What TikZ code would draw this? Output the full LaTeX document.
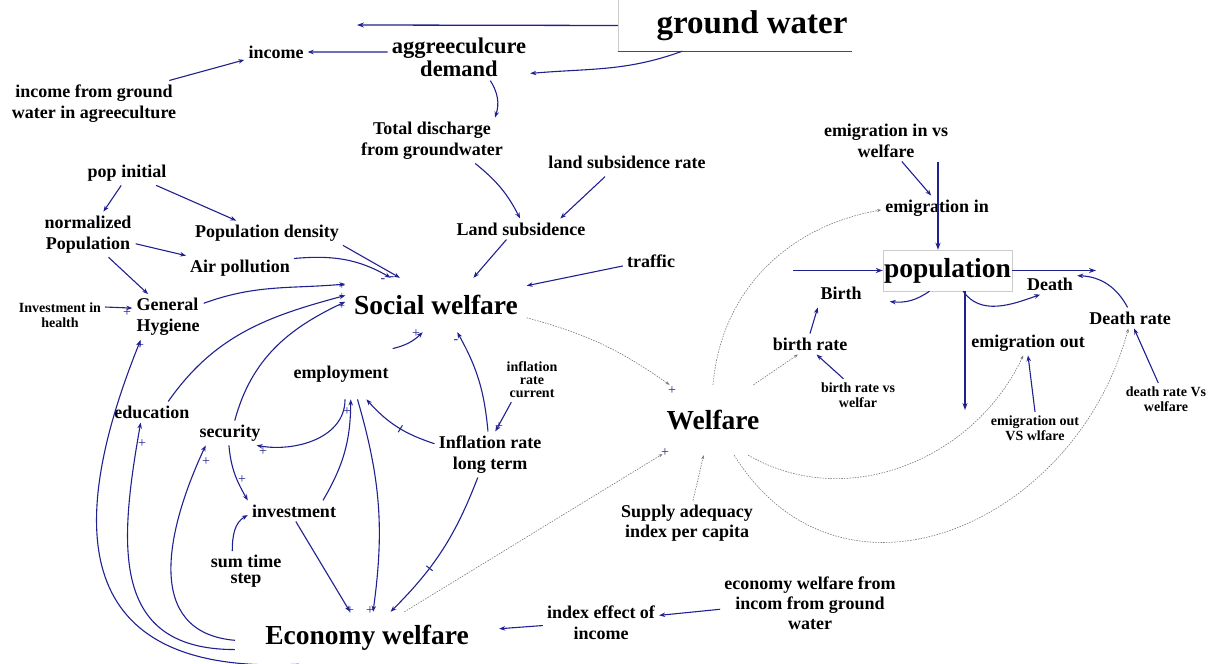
\documentclass[tikz,border=0pt]{standalone}
\usepackage{fontspec}
\setmainfont{Liberation Serif}
\usetikzlibrary{arrows.meta}
\definecolor{linkblue}{RGB}{32,32,145}
\definecolor{infogray}{RGB}{120,120,120}

\begin{document}
\begin{tikzpicture}[x=1pt,y=1pt,
  var/.style={font=\fontsize{18}{21}\selectfont\bfseries,align=center,inner sep=4pt},
  minor/.style={font=\fontsize{14}{15}\selectfont\bfseries,align=center,inner sep=4pt},
  big/.style={font=\fontsize{27.5}{30}\selectfont\bfseries,inner sep=4pt},
  link/.style={linkblue,line width=1.1pt,-{Stealth[length=6pt,width=4.5pt]}},
  flow/.style={linkblue,line width=1.3pt,-{Stealth[length=7pt,width=5pt]}},
  info/.style={infogray,line width=.6pt,dash pattern=on 1.5pt off 1.2pt,-{Stealth[length=4pt,width=3pt]}},
  pol/.style={text=linkblue,font=\fontsize{14}{14}\selectfont,inner sep=0pt},
  delaymark/.style={draw=linkblue,line width=1pt,minimum width=0pt,minimum height=8pt,inner sep=0pt,sloped,allow upside down}]

\useasboundingbox (0,0) rectangle (1211,664);

\node[minimum width=234pt,minimum height=51pt,inner sep=0pt] (gw) at (735,638.5) {};
\node[font=\fontsize{33}{36}\selectfont\bfseries] (gwtext) at ([xshift=17pt]gw.center) {ground water};
\draw[black!20] (gw.north west) -- (gw.south west);
\draw[black!70,line width=.8pt] (gw.south west) -- (gw.south east);

\node[var,font=\fontsize{22.5}{23}\selectfont\bfseries] (agdem) at (459,607) {aggreeculcure\\demand};
\node[var] (income) at (276,612) {income};
\node[var] (incgw) at (94,560.5) {income from ground\\water in agreeculture};
\node[var] (totdis) at (432,523.5) {Total discharge\\from groundwater};
\node[var] (lsrate) at (627,502) {land subsidence rate};
\node[var] (landsub) at (521,435) {Land subsidence};
\node[var] (traffic) at (651,403) {traffic};
\node[big,minimum width=181pt,minimum height=54pt] (social) at (436,359) {Social welfare};
\node[var] (popinit) at (127,491) {pop initial};
\node[var] (normpop) at (88,429.5) {normalized\\Population};
\node[var] (popdens) at (267,431) {Population density};
\node[var] (airpol) at (240,396) {Air pollution};
\node[var,align=left] (hygiene) at (168,347) {General\\Hygiene};
\node[minor] (invhealth) at (60,349) {Investment in\\health};
\node[var] (education) at (152,252) {education};
\node[var] (security) at (230,231) {security};
\node[var,inner ysep=17pt] (employment) at (341,290) {employment};
\node[minor,font=\fontsize{14}{13}\selectfont\bfseries] (inflcur) at (532,284) {inflation\\rate\\current};
\node[var] (inflation) at (490,209.5) {Inflation rate\\long term};
\node[var] (investment) at (294,153) {investment};
\node[var,font=\fontsize{18}{16}\selectfont\bfseries] (sumtime) at (246,92.5) {sum time\\step};
\node[big,minimum width=264pt,minimum height=52pt] (economy) at (367,26) {Economy welfare};
\node[big,minimum width=100pt,minimum height=70pt] (welfare) at (713,244) {Welfare};
\node[var,font=\fontsize{18}{20}\selectfont\bfseries] (supply) at (687,141) {Supply adequacy\\index per capita};
\node[var] (indexeff) at (601,41.5) {index effect of\\income};
\node[var,font=\fontsize{18}{20}\selectfont\bfseries] (econinc) at (810,61) {economy welfare from\\incom from ground\\water};

\node[var] (eminvs) at (886,523.5) {emigration in vs\\welfare};
\node[var] (emigin) at (937,456) {emigration in};
\node[big,draw=black!20,minimum width=129pt,minimum height=41pt,inner sep=0pt] (pop) at (947.5,393.5) {population};
\node[var,inner xsep=28pt,inner ysep=8pt] (birth) at (841,371) {Birth};
\node[var] (death) at (1050,380) {Death};
\node[var] (deathrate) at (1130,346) {Death rate};
\node[var] (emigout) at (1028,321) {emigration out};
\node[minor] (emoutvs) at (1035,235.5) {emigration out\\VS wlfare};
\node[minor] (deathvs) at (1166,264.5) {death rate Vs\\welfare};
\node[var] (birthrate) at (810,320) {birth rate};
\node[minor] (birthvs) at (858,268.5) {birth rate vs\\welfar};

\coordinate (gwout) at (357,639);
\coordinate (emincloud) at (938,502);
\coordinate (birthcloud) at (793,393.5);
\coordinate (deathcloud) at (1096,395);
\coordinate (emoutcloud) at (965,254);

% flows
\draw[flow] (gw.west) -- (gwout);
\draw[flow] (emincloud) -- (emincloud |- pop.north);
\draw[flow] (birthcloud) -- (pop.west);
\draw[flow] (pop.east) -- (pop.east -| deathcloud);
\draw[flow] (pop.south -| emoutcloud) -- (emoutcloud);

% links
\draw[link] (gw.206) to[out=200,in=5] (agdem.-13);
\draw[link] (agdem.176) -- (income.east);
\draw[link] (incgw.17) -- (income.194);
\draw[link] (agdem.-37) to[bend left=25] (totdis.20);
\draw[link] (totdis.-28) to[bend left=12] (landsub.95);
\draw[link,shorten <=6pt] (lsrate.211) -- (landsub.15);
\draw[link] (landsub.216) -- (social.36);
\draw[link] (traffic.190) -- (social.12);
\draw[link] (popinit.245) -- (normpop.56);
\draw[link] (popinit.-23) -- (popdens.158);
\draw[link] (normpop.-11) -- (airpol.north west);
\draw[link] (normpop.-48) -- (hygiene.131);
\draw[link] (popdens.south east) -- (social.143);
\draw[link] (airpol.10) to[out=5,in=150] (social.149);
\draw[link] (invhealth.10) -- (hygiene.166);
\draw[link] (hygiene.21) to[out=20,in=185] (social.167);
\draw[link] (education.33) to[out=55,in=195] (social.174);
\draw[link] (security.69) to[out=75,in=205] (social.178);
\draw[link] (employment.north east) to[bend right=15] (social.244);
\draw[link] (inflation.95) to[bend right=12] (social.-52);
\draw[link] (inflcur.227) -- (inflation.77);
\draw[link] (inflation.169) to[bend left=15] node[delaymark,pos=.45]{} (employment.-45);
\draw[link] (inflation.242) to[bend left=12] node[delaymark,pos=.65]{} (economy.48);
\draw[link] (employment.-81) to[out=-90,in=-10] (security.-25);
\draw[link] (employment.-57) to[bend left=12] (economy.77);
\draw[link] (investment.20) to[bend right=15] (employment.-69);
\draw[link] (investment.-80) -- (economy.123);
\draw[link] (security.265) to[out=-85,in=120] (investment.north west);
\draw[link] (sumtime.124) to[out=90,in=210] (investment.185);
\draw[link] (economy.201) to[out=183,in=248,looseness=1.55] (hygiene.220);
\draw[link] (economy.185) to[out=180,in=260,looseness=1.3] (education.223);
\draw[link] (economy.181) to[out=175,in=245,looseness=1.2] (security.207);
\draw[link] (indexeff.183) -- (economy.4);
\draw[link] (econinc.184) -- (indexeff.7);

\draw[link] (eminvs.-53) -- (emigin.115);
\draw[link] (pop.229.5) to[bend left=20] (birth.-10);
\draw[link] (pop.-53) to[out=-55,in=200] (death.227);
\draw[link] (deathrate.103) to[bend right=30] (death.17);
\draw[link] (deathvs.115) -- (deathrate.-69);
\draw[link] (emoutvs.north) -- (emigout.south);
\draw[link] (birthrate.north) -- (birth.212);
\draw[link] (birthvs.131) -- (birthrate.-58);

% information links
\draw[info] (social.-8) to[bend left=10] (welfare.141);
\draw[info] (economy.35) -- (welfare.214);
\draw[info] (supply.75) -- (welfare.255);
\draw[info] (welfare.41) -- (birthrate.221);
\draw[info] (welfare.90) to[out=85,in=190] (emigin.182);
\draw[info] (welfare.-45) to[out=-30,in=245] (emigout.249);
\draw[info] (welfare.-59) to[out=-58,in=255,looseness=1.25] (deathrate.261);

\begin{scope}[pol]
\node (s1) at (127,351) {+};
\begin{scope}[font=\fontsize{11}{11}\selectfont]
\node (s2) at (342,378) {+};
\node (s3) at (342,368) {+};
\node (s4) at (342,358) {+};
\end{scope}
\node (s6) at (383,383) {-};
\node (s7) at (392,385) {-};
\node (s8) at (416,330) {+};
\node (s9) at (456,322) {-};
\node (s10) at (499,237) {+};
\node (s11) at (347,252) {+};
\node (s12) at (263,212) {+};
\node (s13) at (242,184) {+};
\node (s14) at (142,220) {+};
\node (s15) at (206,202) {+};
\node (s16) at (140,318) {+};
\node (s17) at (350,53) {+};
\node (s18) at (370,53) {+};
\node (s19) at (672,273) {+};
\node (s20) at (665,211) {+};
\end{scope}

\end{tikzpicture}
\end{document}
